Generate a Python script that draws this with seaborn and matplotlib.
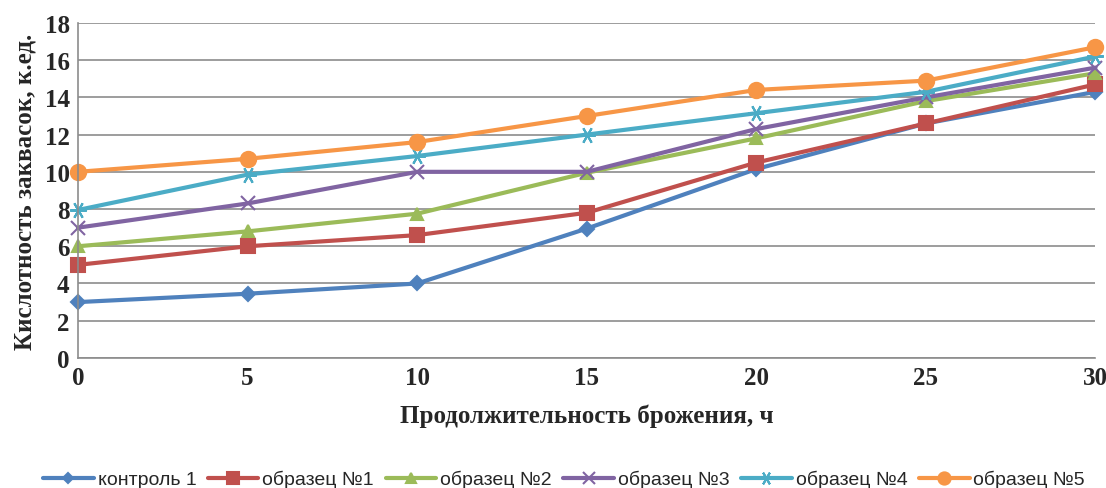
import matplotlib
matplotlib.use("Agg")
import matplotlib.pyplot as plt
import seaborn as sns
import pandas as pd

hours = [0, 5, 10, 15, 20, 25, 30]
series_names = ["контроль 1", "образец №1", "образец №2", "образец №3", "образец №4", "образец №5"]
control_1 = [3.0, 3.45, 4.0, 6.95, 10.15, 12.6, 14.3]
sample_1 = [5.0, 6.0, 6.6, 7.8, 10.5, 12.6, 14.7]
sample_2 = [6.0, 6.8, 7.75, 9.95, 11.8, 13.8, 15.3]
sample_3 = [7.0, 8.3, 10.0, 10.0, 12.3, 14.0, 15.6]
sample_4 = [7.95, 9.85, 10.85, 12.0, 13.15, 14.3, 16.2]
sample_5 = [10.0, 10.7, 11.6, 13.0, 14.4, 14.9, 16.7]
y_ticks = [0, 2, 4, 6, 8, 10, 12, 14, 16, 18]
x_ticks = [0, 5, 10, 15, 20, 25, 30]

all_values = [control_1, sample_1, sample_2, sample_3, sample_4, sample_5]
rows = []
for name, vals in zip(series_names, all_values):
    for h, v in zip(hours, vals):
        rows.append({"hours": h, "value": v, "series": name})
df = pd.DataFrame(rows)

colors = ["#4F81BD", "#C0504D", "#9BBB59", "#8064A2", "#4BACC6", "#F79646"]
markers = ["D", "s", "^", "x", (6, 2, 90), "o"]
msizes = [7, 10, 9, 10, 12, 11]

sns.set_style("white")
plt.rcParams["font.family"] = ["Liberation Serif", "DejaVu Serif"]

fig = plt.figure(figsize=(11.06, 4.89), dpi=100)
ax = fig.add_axes([0.0705, 0.266, 0.920, 0.685])

for i, name in enumerate(series_names):
    sub = df[df["series"] == name]
    sns.lineplot(data=sub, x="hours", y="value", ax=ax, color=colors[i],
                 marker=markers[i], markersize=msizes[i], linewidth=3,
                 markeredgecolor=colors[i], markeredgewidth=1.5, label=name)

ax.set_xlim(0, 30)
ax.set_ylim(0, 18)
ax.set_xticks(x_ticks)
ax.set_yticks(y_ticks)
ax.yaxis.grid(True, color="#8c8c8c", linewidth=1.2)
ax.xaxis.grid(False)
for s in ["top", "right"]:
    ax.spines[s].set_visible(False)
for s in ["left", "bottom"]:
    ax.spines[s].set_color("#8c8c8c")
    ax.spines[s].set_linewidth(1.2)
for lab in ax.get_xticklabels() + ax.get_yticklabels():
    lab.set_fontweight("bold")
    lab.set_fontsize(18)
ax.tick_params(axis="both", length=0, pad=6)
ax.set_xlabel("Продолжительность брожения, ч", fontsize=18, fontweight="bold", labelpad=10)
ax.set_ylabel("Кислотность заквасок, к.ед.", fontsize=18, fontweight="bold", labelpad=6)
for l in ax.lines:
    l.set_clip_on(False)

handles, labels = ax.get_legend_handles_labels()
ax.get_legend().remove()
fig.legend(handles, labels, loc="center", bbox_to_anchor=(0.51, 0.018), ncol=6, frameon=False,
           prop={"family": ["Liberation Sans Narrow", "Liberation Sans", "DejaVu Sans"], "size": 14},
           handlelength=2.6, columnspacing=0.6, handletextpad=0.2, markerscale=0.8)

fig.savefig("out.png", dpi=100)
